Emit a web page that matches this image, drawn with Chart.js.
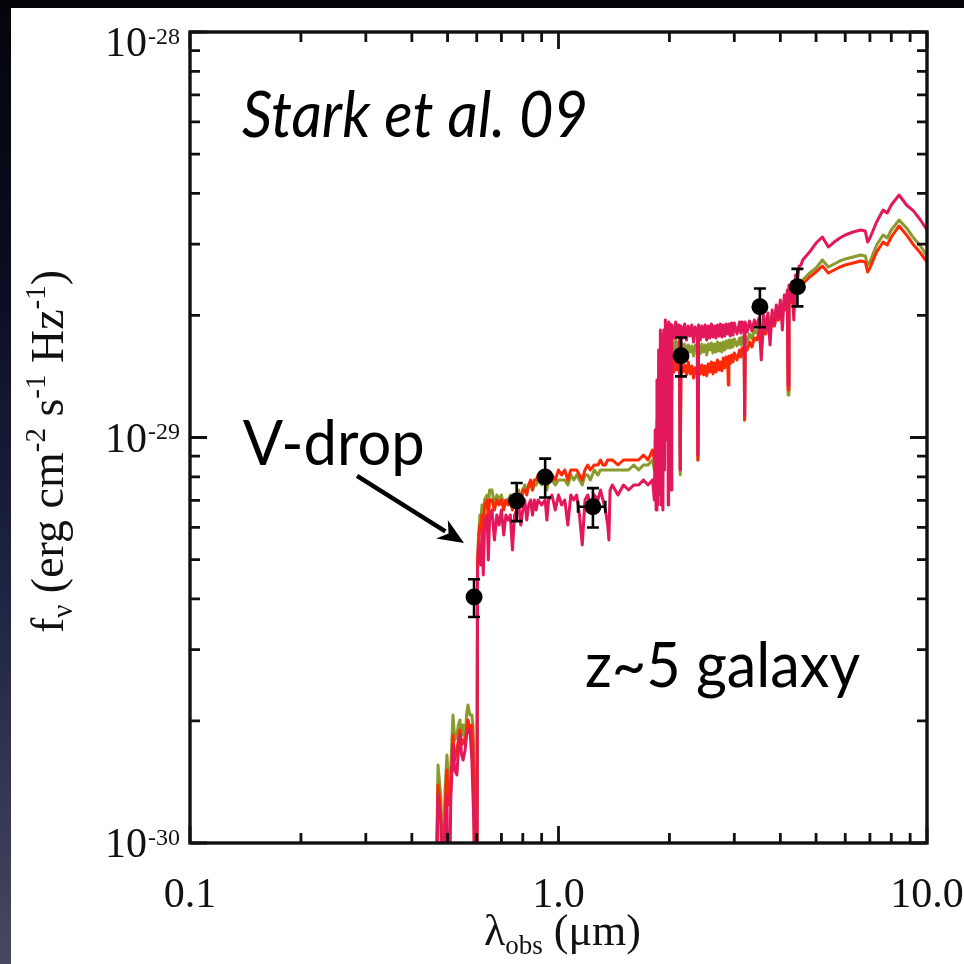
<!DOCTYPE html>
<html>
<head>
<meta charset="utf-8">
<title>SED of a z~5 V-drop galaxy</title>
<script src="https://cdn.jsdelivr.net/npm/chart.js@4.4.1/dist/chart.umd.min.js"></script>
<style>
  html, body { margin: 0; padding: 0; }
  body {
    width: 964px; height: 964px; overflow: hidden; position: relative;
    background: linear-gradient(180deg, #04050b 0%, #0b0e22 30%, #1f2444 62%, #474860 100%);
  }
  #panel { position: absolute; left: 11px; top: 8px; width: 953px; height: 956px; background: #ffffff; }
  canvas { display: block; }
</style>
</head>
<body>
<div id="panel"><canvas id="sed" width="953" height="956"></canvas></div>
<script>
// Observed wavelength grid (micron) shared by the three model spectra
const wavelength = [
  0.440, 0.462, 0.471, 0.480, 0.486, 0.492, 0.498, 0.504, 0.510, 0.517,
  0.523, 0.530, 0.535, 0.540, 0.546, 0.551, 0.558, 0.563, 0.568, 0.575,
  0.582, 0.586, 0.590, 0.593, 0.600, 0.603, 0.607, 0.612, 0.616, 0.620,
  0.625, 0.630, 0.640, 0.645, 0.650, 0.660, 0.670, 0.680, 0.690, 0.700,
  0.710, 0.720, 0.730, 0.740, 0.750, 0.760, 0.770, 0.780, 0.790, 0.800,
  0.810, 0.820, 0.830, 0.840, 0.850, 0.860, 0.870, 0.880, 0.900, 0.920,
  0.930, 0.940, 0.960, 0.980, 1.000, 1.020, 1.040, 1.060, 1.080, 1.100,
  1.120, 1.140, 1.160, 1.180, 1.200, 1.220, 1.250, 1.280, 1.300, 1.320,
  1.340, 1.360, 1.370, 1.380, 1.400, 1.450, 1.500, 1.550, 1.600, 1.650,
  1.700, 1.750, 1.800, 1.820, 1.830, 1.840, 1.850, 1.860, 1.870, 1.880,
  1.890, 1.900, 1.910, 1.920, 1.930, 1.940, 1.950, 1.970, 1.980,
  1.985, 1.990, 1.995, 2.000, 2.010, 2.020, 2.030,
  2.060, 2.080, 2.100, 2.120, 2.130, 2.140, 2.150, 2.175, 2.200, 2.225,
  2.250, 2.275, 2.300, 2.325, 2.350, 2.380, 2.390, 2.400, 2.425, 2.450,
  2.475, 2.500, 2.525, 2.550, 2.575, 2.600, 2.625, 2.650, 2.675, 2.700,
  2.725, 2.750, 2.775, 2.800, 2.825, 2.850, 2.880, 2.890, 2.900, 2.925,
  2.950, 2.975, 3.000, 3.050, 3.100, 3.125, 3.150, 3.190, 3.200, 3.210,
  3.250, 3.300, 3.350, 3.400, 3.450, 3.500, 3.550, 3.600, 3.650, 3.700,
  3.750, 3.800, 3.850, 3.900, 3.950, 4.000, 4.050, 4.100, 4.140, 4.180,
  4.200, 4.220, 4.260, 4.300, 4.350, 4.400, 4.450, 4.500, 4.550, 4.600,
  4.800, 5.000, 5.200, 5.400, 5.600, 5.800, 6.000, 6.300, 6.600, 6.800,
  6.900, 7.000, 7.300, 7.600, 7.800, 8.000, 8.400, 8.800, 9.200, 9.600,
  10.00
];

// Model fluxes in units of 1e-30 erg cm^-2 s^-1 Hz^-1
const fluxOlive = [
  0.5, 0.5, 1.557, 1.276, 0.5, 1.351, 1.648, 1.390, 1.513, 2.069,
  1.795, 1.846, 1.954, 2.011, 1.846, 1.954, 1.795, 2.069, 2.189, 2.069,
  2.069, 1.954, 1.430, 0.5, 0.5, 4.988, 5.749, 6.440, 6.259, 6.818,
  6.259, 7.014, 7.215, 6.625, 7.422, 7.422, 6.818, 7.215, 7.014, 7.215,
  6.818, 7.014, 7.014, 7.215, 6.818, 7.215, 7.215, 7.422, 7.014, 7.422,
  7.638, 7.422, 7.638, 7.638, 7.422, 7.638, 7.638, 7.858, 7.638, 7.858,
  7.422, 7.858, 7.858, 7.638, 7.858, 7.858, 7.858, 7.638, 8.083, 7.858,
  8.083, 7.858, 7.638, 8.083, 8.083, 7.858, 8.318, 8.083, 8.318, 8.318,
  8.318, 8.318, 8.318, 8.318, 8.318, 8.318, 8.318, 8.318, 8.555, 8.318,
  8.555, 8.555, 8.801, 8.318, 9.316, 7.858, 11.05, 8.318, 12.37, 9.316,
  13.86, 11.05, 15.53, 11.05, 16.44, 12.37, 16.91, 13.10, 16.91,
  13.10, 17.20, 13.86, 17.40, 17.20, 13.86, 17.40,
  16.44, 17.40, 16.25, 17.20, 16.63, 8.083, 17.20, 16.25, 17.01, 15.98,
  16.91, 16.25, 16.82, 15.89, 16.91, 16.44, 8.801, 16.91, 16.07, 17.01,
  16.25, 16.91, 15.98, 17.01, 16.44, 17.11, 16.16, 17.01, 16.25, 17.20,
  16.35, 17.11, 16.25, 17.20, 16.44, 17.30, 16.63, 16.82, 17.40, 16.63,
  17.40, 16.72, 17.50, 16.82, 17.60, 16.91, 17.70, 17.20, 11.05, 17.80,
  17.20, 18.00, 17.50, 18.41, 18.10, 18.94, 17.40, 19.49, 18.83, 19.71,
  19.27, 20.16, 19.71, 20.63, 20.28, 21.22, 21.10, 21.83, 21.34, 21.95,
  12.73, 22.46, 22.08, 22.59, 22.85, 23.24, 23.11, 23.77, 23.90, 24.46,
  25.45, 26.19, 27.40, 26.33, 26.78, 27.24, 27.56, 27.88, 28.19, 28.03,
  26.63, 27.09, 29.83, 31.58, 31.04, 32.49, 34.39, 32.86, 31.04, 29.66,
  28.03
];
const fluxRed = [
  0.5, 0.5, 1.390, 1.172, 0.5, 1.206, 1.513, 1.241, 1.351, 1.846,
  1.602, 1.696, 1.795, 1.900, 1.745, 1.795, 1.745, 1.900, 2.011, 1.900,
  1.954, 1.795, 1.276, 0.5, 0.5, 4.988, 5.588, 6.085, 5.914, 6.440,
  5.914, 6.818, 7.014, 6.259, 7.014, 7.014, 6.625, 7.014, 6.818, 7.014,
  6.625, 7.014, 6.818, 7.014, 6.625, 7.014, 7.014, 7.215, 6.818, 7.422,
  7.422, 7.215, 7.638, 7.858, 7.422, 7.858, 7.858, 8.083, 7.858, 8.083,
  7.638, 8.083, 8.083, 7.858, 8.318, 8.083, 8.318, 7.858, 8.318, 8.318,
  8.318, 8.083, 7.858, 8.318, 8.555, 8.318, 8.555, 8.555, 8.801, 8.555,
  8.555, 8.801, 8.801, 8.801, 8.801, 8.555, 8.801, 8.801, 8.801, 8.801,
  9.055, 8.801, 9.316, 8.801, 9.055, 8.318, 9.858, 8.555, 11.05, 9.055,
  13.10, 10.43, 14.68, 10.74, 15.53, 11.69, 15.53, 12.37, 15.53,
  12.37, 15.53, 12.95, 15.53, 15.53, 13.10, 15.53,
  14.51, 15.71, 14.68, 15.53, 14.85, 8.318, 15.36, 14.51, 15.10, 14.27,
  15.36, 14.35, 15.01, 14.02, 14.85, 14.68, 8.801, 15.19, 14.35, 15.10,
  14.27, 15.01, 14.19, 15.19, 14.51, 15.36, 14.35, 15.27, 14.51, 15.53,
  14.68, 15.36, 14.60, 15.71, 14.85, 15.80, 15.01, 13.48, 15.89, 15.19,
  15.98, 15.36, 16.16, 15.53, 16.44, 15.80, 16.63, 16.07, 11.05, 16.72,
  16.44, 17.20, 16.72, 17.60, 17.40, 18.10, 16.44, 18.41, 18.00, 18.94,
  18.41, 19.27, 18.83, 19.71, 19.49, 20.16, 20.40, 21.10, 20.63, 21.34,
  13.10, 21.83, 21.46, 21.95, 22.33, 22.59, 22.72, 23.11, 23.37, 23.90,
  24.88, 25.60, 26.48, 25.45, 25.89, 26.33, 26.63, 26.93, 27.24, 27.09,
  25.60, 26.19, 28.67, 30.34, 29.83, 31.22, 33.24, 31.58, 29.83, 28.51,
  27.09
];
const fluxPink = [
  0.5, 0.5, 1.313, 1.108, 0.5, 1.077, 1.313, 0.5, 1.276, 1.745,
  1.513, 1.471, 1.696, 1.846, 1.648, 1.602, 1.696, 1.846, 1.900, 1.900,
  1.602, 1.313, 1.077, 0.5, 0.5, 4.712, 5.131, 5.432, 4.849, 5.914,
  4.580, 6.085, 6.440, 4.988, 6.259, 6.625, 5.588, 6.440, 6.085, 6.625,
  5.749, 6.440, 6.259, 6.440, 5.279, 6.440, 6.625, 6.818, 6.085, 6.625,
  7.014, 6.259, 6.818, 7.014, 6.440, 7.014, 6.625, 7.014, 6.818, 7.014,
  6.259, 7.014, 7.215, 6.625, 7.215, 6.818, 7.014, 6.085, 7.215, 7.014,
  7.215, 6.440, 5.432, 7.014, 7.215, 6.818, 7.215, 7.014, 7.422, 7.014,
  6.625, 6.085, 5.588, 7.422, 7.638, 7.215, 7.638, 7.422, 7.638, 7.638,
  7.858, 7.638, 7.858, 7.014, 10.43, 6.625, 13.86, 6.818, 16.44, 7.215,
  18.41, 6.818, 17.90, 6.625, 18.41, 8.318, 19.49, 9.858, 18.94,
  6.818, 19.27, 7.858, 18.41, 19.05, 7.422, 18.94,
  17.60, 19.27, 17.80, 18.94, 18.20, 8.318, 18.83, 17.60, 19.05, 17.40,
  18.83, 17.80, 18.94, 17.20, 18.73, 17.90, 9.055, 18.94, 17.40, 18.83,
  17.70, 18.94, 17.40, 18.83, 17.60, 19.05, 17.70, 18.83, 17.60, 18.94,
  17.80, 19.05, 17.70, 18.94, 17.80, 19.05, 18.00, 18.00, 19.05, 17.80,
  19.16, 17.90, 19.16, 18.00, 19.27, 18.10, 19.27, 18.41, 11.36, 19.27,
  18.20, 19.38, 18.31, 19.49, 18.83, 19.71, 15.53, 20.05, 18.41, 20.28,
  16.91, 20.63, 18.94, 21.22, 19.71, 21.83, 18.41, 22.46, 21.22, 23.11,
  13.48, 23.77, 21.83, 24.18, 19.49, 25.16, 24.46, 26.48, 26.63, 27.40,
  28.67, 30.17, 31.22, 29.49, 30.34, 31.04, 31.58, 32.12, 32.49, 32.31,
  30.34, 31.04, 34.00, 36.39, 35.78, 37.44, 39.63, 37.44, 36.18, 34.39,
  32.49
];

// Broad-band photometry (ACS V, i, z; J; Ks; IRAC 3.6 and 4.5 micron)
const photLambda   = [0.59, 0.77, 0.92, 1.24, 2.15, 3.52, 4.45];
const photFlux     = [4.04, 6.97, 7.99, 6.75, 15.9, 21.0, 23.55];
const photErr      = [0.43, 0.75, 0.88, 0.75, 1.75, 2.30, 2.50];
const photLambdaLo = [null, null, null, 1.13, null, null, null];
const photLambdaHi = [null, null, null, 1.34, null, null, null];

const FLUX_UNIT = 1e-30;

// Axis ticks
const xMajorTicks = [0.1, 1, 10];
const xTickLabels = ['0.1', '1.0', '10.0'];
const xMinorTicks = [0.2, 0.3, 0.4, 0.5, 0.6, 0.7, 0.8, 0.9, 2, 3, 4, 5, 6, 7, 8, 9];
const yMajorTicks = [1e-30, 1e-29, 1e-28];
const yTickExponents = ['-30', '-29', '-28'];
const yMinorTicks = [2e-30, 3e-30, 4e-30, 5e-30, 6e-30, 7e-30, 8e-30, 9e-30,
                     2e-29, 3e-29, 4e-29, 5e-29, 6e-29, 7e-29, 8e-29, 9e-29];

// Text placed on the plot, anchored in data coordinates
const annotations = [
  { text: 'Stark et al. 09', lambda: 0.1384, flux: 5.51e-29, italic: true,  size: 64, width: 346 },
  { text: 'V-drop',          lambda: 0.1390, flux: 8.55e-30, italic: false, size: 62, width: 182 },
  { text: 'z~5 galaxy',      lambda: 1.180,  flux: 2.43e-30, italic: false, size: 62, width: 275 }
];
const arrowFrom = { lambda: 0.284, flux: 8.04e-30 };
const arrowTo   = { lambda: 0.554, flux: 5.49e-30 };

const SERIF = '"Liberation Serif", "Times New Roman", serif';
const SANS = 'Lato, "Open Sans", sans-serif';
const INK = '#111111';

const toPoints = (lam, flux) => lam.map((l, i) => ({ x: l, y: flux[i] * FLUX_UNIT }));

function richWidth(ctx, parts) {
  let w = 0;
  parts.forEach(p => { ctx.font = `${p.size}px ${SERIF}`; w += ctx.measureText(p.t).width; });
  return w;
}
function drawRich(ctx, parts, x, y) {
  parts.forEach(p => {
    ctx.font = `${p.size}px ${SERIF}`;
    ctx.fillText(p.t, x, y + (p.dy || 0));
    x += ctx.measureText(p.t).width;
  });
}

const framePlugin = {
  id: 'sedFrame',
  beforeDraw(chart) {
    chart.ctx.filter = 'blur(0.55px)';
  },
  afterDatasetsDraw(chart) {
    const { ctx, scales: { x, y } } = chart;
    const CAP = 6;
    ctx.save();
    ctx.strokeStyle = '#000';
    ctx.lineWidth = 2.6;
    photLambda.forEach((lam, i) => {
      const px = x.getPixelForValue(lam);
      const py = y.getPixelForValue(photFlux[i] * FLUX_UNIT);
      const yTop = y.getPixelForValue((photFlux[i] + photErr[i]) * FLUX_UNIT);
      const yBot = y.getPixelForValue((photFlux[i] - photErr[i]) * FLUX_UNIT);
      ctx.beginPath();
      ctx.moveTo(px, yTop); ctx.lineTo(px, yBot);
      ctx.moveTo(px - CAP, yTop); ctx.lineTo(px + CAP, yTop);
      ctx.moveTo(px - CAP, yBot); ctx.lineTo(px + CAP, yBot);
      if (photLambdaLo[i] !== null) {
        const xl = x.getPixelForValue(photLambdaLo[i]);
        const xh = x.getPixelForValue(photLambdaHi[i]);
        ctx.moveTo(xl, py); ctx.lineTo(xh, py);
        ctx.moveTo(xl, py - CAP); ctx.lineTo(xl, py + CAP);
        ctx.moveTo(xh, py - CAP); ctx.lineTo(xh, py + CAP);
      }
      ctx.stroke();
    });
    ctx.restore();
  },
  afterDraw(chart) {
    const { ctx, chartArea: a, scales: { x, y } } = chart;
    const MAJOR = 17, MINOR = 10;
    ctx.save();

    // frame
    ctx.strokeStyle = INK;
    ctx.lineWidth = 3.4;
    ctx.strokeRect(a.left, a.top, a.right - a.left, a.bottom - a.top);

    // inward ticks on all four sides
    ctx.lineWidth = 2.8;
    ctx.beginPath();
    const xTick = (v, len) => {
      const p = x.getPixelForValue(v);
      ctx.moveTo(p, a.bottom); ctx.lineTo(p, a.bottom - len);
      ctx.moveTo(p, a.top); ctx.lineTo(p, a.top + len);
    };
    const yTick = (v, len) => {
      const p = y.getPixelForValue(v);
      ctx.moveTo(a.left, p); ctx.lineTo(a.left + len, p);
      ctx.moveTo(a.right, p); ctx.lineTo(a.right - len, p);
    };
    xMinorTicks.forEach(v => xTick(v, MINOR));
    xMajorTicks.forEach(v => xTick(v, MAJOR));
    yMinorTicks.forEach(v => yTick(v, MINOR));
    yMajorTicks.forEach(v => yTick(v, MAJOR));
    ctx.stroke();

    // y tick labels: 10 with a raised exponent
    ctx.fillStyle = INK;
    ctx.textAlign = 'left';
    ctx.textBaseline = 'alphabetic';
    yMajorTicks.forEach((v, i) => {
      const p = y.getPixelForValue(v);
      const base = p + 14 + (i === yMajorTicks.length - 1 ? 10 : 0);
      ctx.font = `42px ${SERIF}`;
      const w10 = ctx.measureText('10').width;
      ctx.font = `24px ${SERIF}`;
      const wExp = ctx.measureText(yTickExponents[i]).width;
      const x0 = a.left - 10 - wExp - w10 - 1;
      ctx.font = `42px ${SERIF}`;
      ctx.fillText('10', x0, base);
      ctx.font = `24px ${SERIF}`;
      ctx.fillText(yTickExponents[i], x0 + w10 + 1, base - 12.5);
    });

    // x axis title
    const xTitle = [
      { t: 'λ', size: 44 }, { t: 'obs', size: 27, dy: 9 }, { t: ' (μm)', size: 44 }
    ];
    const xCenter = (a.left + a.right) / 2 + 4;
    drawRich(ctx, xTitle, xCenter - richWidth(ctx, xTitle) / 2, a.bottom + 102);

    // y axis title (rotated)
    const yTitle = [
      { t: 'f', size: 46 }, { t: 'ν', size: 29, dy: 9 },
      { t: ' (erg cm', size: 46 }, { t: '-2', size: 29, dy: -18 },
      { t: ' s', size: 46 }, { t: '-1', size: 29, dy: -18 },
      { t: ' Hz', size: 46 }, { t: '-1', size: 29, dy: -18 },
      { t: ')', size: 46 }
    ];
    ctx.save();
    ctx.translate(52, (a.top + a.bottom) / 2 + 14);
    ctx.rotate(-Math.PI / 2);
    drawRich(ctx, yTitle, -richWidth(ctx, yTitle) / 2, 0);
    ctx.restore();

    // crisp overlay text and arrow
    ctx.filter = 'none';
    ctx.fillStyle = '#000';
    annotations.forEach(n => {
      const px = x.getPixelForValue(n.lambda);
      const py = y.getPixelForValue(n.flux);
      ctx.font = `${n.italic ? 'italic ' : ''}${n.size}px ${SANS}`;
      const w = ctx.measureText(n.text).width;
      ctx.save();
      ctx.translate(px, py);
      ctx.scale(n.width / w, 1);
      ctx.fillText(n.text, 0, 0);
      ctx.restore();
    });

    const ax0 = x.getPixelForValue(arrowFrom.lambda), ay0 = y.getPixelForValue(arrowFrom.flux);
    const ax1 = x.getPixelForValue(arrowTo.lambda),   ay1 = y.getPixelForValue(arrowTo.flux);
    const ang = Math.atan2(ay1 - ay0, ax1 - ax0);
    const headLen = 26, headHalf = 11;
    const bx = ax1 - headLen * Math.cos(ang), by = ay1 - headLen * Math.sin(ang);
    ctx.strokeStyle = '#000';
    ctx.lineWidth = 4.5;
    ctx.beginPath();
    ctx.moveTo(ax0, ay0); ctx.lineTo(bx + 4 * Math.cos(ang), by + 4 * Math.sin(ang));
    ctx.stroke();
    ctx.beginPath();
    ctx.moveTo(ax1, ay1);
    ctx.lineTo(bx + headHalf * Math.sin(ang), by - headHalf * Math.cos(ang));
    ctx.lineTo(bx + 0.3 * headLen * Math.cos(ang), by + 0.3 * headLen * Math.sin(ang));
    ctx.lineTo(bx - headHalf * Math.sin(ang), by + headHalf * Math.cos(ang));
    ctx.closePath();
    ctx.fill();

    ctx.restore();
  }
};

const spectrum = (label, flux, color, order) => ({
  label, data: toPoints(wavelength, flux), borderColor: color, borderWidth: 3,
  pointRadius: 0, tension: 0, borderJoinStyle: 'round', fill: false, order
});

new Chart(document.getElementById('sed'), {
  type: 'line',
  data: {
    datasets: [
      {
        label: 'Photometry', type: 'scatter', data: toPoints(photLambda, photFlux),
        pointRadius: 8.5, pointBackgroundColor: '#000', pointBorderColor: '#000',
        pointBorderWidth: 0, showLine: false, order: 0
      },
      spectrum('Model C', fluxPink, '#e2185a', 1),
      spectrum('Model B', fluxRed, '#ff2a05', 2),
      spectrum('Model A', fluxOlive, '#8a9a2c', 3)
    ]
  },
  options: {
    responsive: false,
    animation: false,
    devicePixelRatio: 1,
    layout: { padding: { top: 24, right: 37, left: 0, bottom: 0 } },
    plugins: { legend: { display: false }, tooltip: { enabled: false } },
    scales: {
      x: {
        type: 'logarithmic', min: 0.1, max: 10, position: 'bottom',
        grid: { display: false }, border: { display: false },
        afterBuildTicks: s => { s.ticks = xMajorTicks.map(v => ({ value: v })); },
        afterFit: s => { s.height = 121; s.paddingLeft = 0; s.paddingRight = 0; },
        ticks: {
          autoSkip: false, maxRotation: 0, minRotation: 0, padding: 20, color: INK,
          font: { family: SERIF, size: 42 },
          callback: (v, i) => xTickLabels[i]
        }
      },
      y: {
        type: 'logarithmic', min: 1e-30, max: 1e-28,
        grid: { display: false }, border: { display: false },
        ticks: { display: false },
        afterFit: s => { s.width = 179; }
      }
    }
  },
  plugins: [framePlugin]
});
</script>
</body>
</html>
